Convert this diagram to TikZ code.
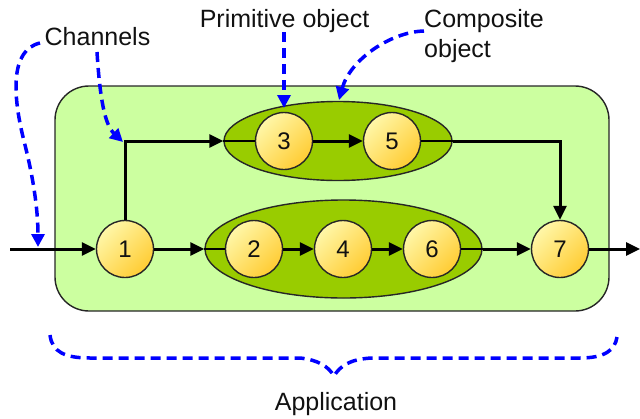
\documentclass[tikz,border=0pt]{standalone}
\usepackage{fontspec}
\setmainfont{Liberation Sans}
\usetikzlibrary{arrows.meta,shapes.geometric}
\definecolor{appgreen}{HTML}{CCFFA0}
\definecolor{objgreen}{HTML}{99CC00}
\definecolor{nodelight}{HTML}{FFF7A8}
\definecolor{nodedark}{HTML}{FFCC33}
\definecolor{txt}{HTML}{111111}
\tikzset{
  appbox/.style={draw=black!85, line width=1.4pt, fill=appgreen, rounded corners=34pt,
    minimum width=554pt, minimum height=225pt, inner sep=0pt},
  compobj/.style={ellipse, draw=black!85, line width=1.4pt, fill=objgreen, inner sep=0pt},
  primobj/.style={circle, draw=black!85, line width=1.4pt, minimum size=57pt, inner sep=0pt,
    top color=nodelight, bottom color=nodedark, shading angle=45,
    font=\fontsize{24}{28}\selectfont, text=txt},
  flow/.style={line width=3pt, -{Triangle[length=14pt,width=13pt]}},
  plain/.style={line width=2.2pt},
  note/.style={font=\fontsize{25}{30}\selectfont, text=txt, inner sep=0pt},
  blu/.style={blue, line width=3.5pt, dash pattern=on 10pt off 6pt, -{Triangle[length=13pt,width=13pt]}},
  blubrace/.style={blue, line width=3.5pt, dash pattern=on 10pt off 6pt}
}
\begin{document}
\begin{tikzpicture}[x=1pt,y=-1pt]
\useasboundingbox (0,0) rectangle (640,418);
\node[appbox] (app) at (332,198.5) {};
\node[compobj, minimum width=228pt, minimum height=79pt] (c1) at (338,141) {};
\node[compobj, minimum width=277pt, minimum height=98pt] (c2) at (343.5,249) {};
\node[primobj] (n1) at (125,249) {1};
\node[primobj] (n2) at (254,249) {2};
\node[primobj] (n4) at (343,249) {4};
\node[primobj] (n6) at (432,249) {6};
\node[primobj] (n7) at (560,249) {7};
\node[primobj] (n3) at (284,141) {3};
\node[primobj] (n5) at (392,141) {5};
\coordinate (in) at (10,249);
\coordinate (out) at (640,249);
% connectors
\draw[flow] (in) -- (n1);
\draw[flow] (n1) -- (c2.west);
\draw[plain] (c2.west) -- (n2);
\draw[flow] (n2) -- (n4);
\draw[flow] (n4) -- (n6);
\draw[plain] (n6) -- (c2.east);
\draw[flow] (c2.east) -- (n7);
\draw[flow] (n7) -- (out);
\draw[flow] (n1.north) |- (c1.west);
\draw[plain] (c1.west) -- (n3);
\draw[flow] (n3) -- (n5);
\draw[plain] (n5) -- (c1.east);
\draw[flow] (c1.east) -| (n7.north);
% labels
\node[note, anchor=base] (ch) at (97.5,45) {Channels};
\node[note, anchor=base] (prim) at (284.5,27) {Primitive object};
\node[note, anchor=north west, align=left] (comp) at (424,9) {Composite\\object};
\node[note, anchor=base] (appl) at (336,410) {Application};
% blue annotation arrows
\coordinate (s1) at (40,43);
\coordinate (s2) at (97,52);
\coordinate (s3) at (284,32);
\coordinate (s4) at (424,31);
\coordinate (t1) at (38,247);
\coordinate (t2) at (123,142);
\coordinate (t3) at (284,108);
\coordinate (t4) at (339,100);
\draw[blu] (s1) .. controls (10,50) and (12,95) .. (25,145) .. controls (35,185) and (38,215) .. (t1);
\draw[blu] (s2) .. controls (100,100) and (105,125) .. (t2);
\draw[blu] (s3) -- (t3);
\draw[blu] (s4) .. controls (390,32) and (350,60) .. (t4);
\coordinate (b1) at (50,335);
\coordinate (b2) at (617,337);
\draw[blubrace] (b1) .. controls (52,352) and (65,358) .. (90,358) -- (300,358)
  .. controls (318,360) and (328,366) .. (334,376)
  .. controls (340,366) and (350,359) .. (372,358) -- (580,358)
  .. controls (605,358) and (615,350) .. (b2);
\end{tikzpicture}
\end{document}
